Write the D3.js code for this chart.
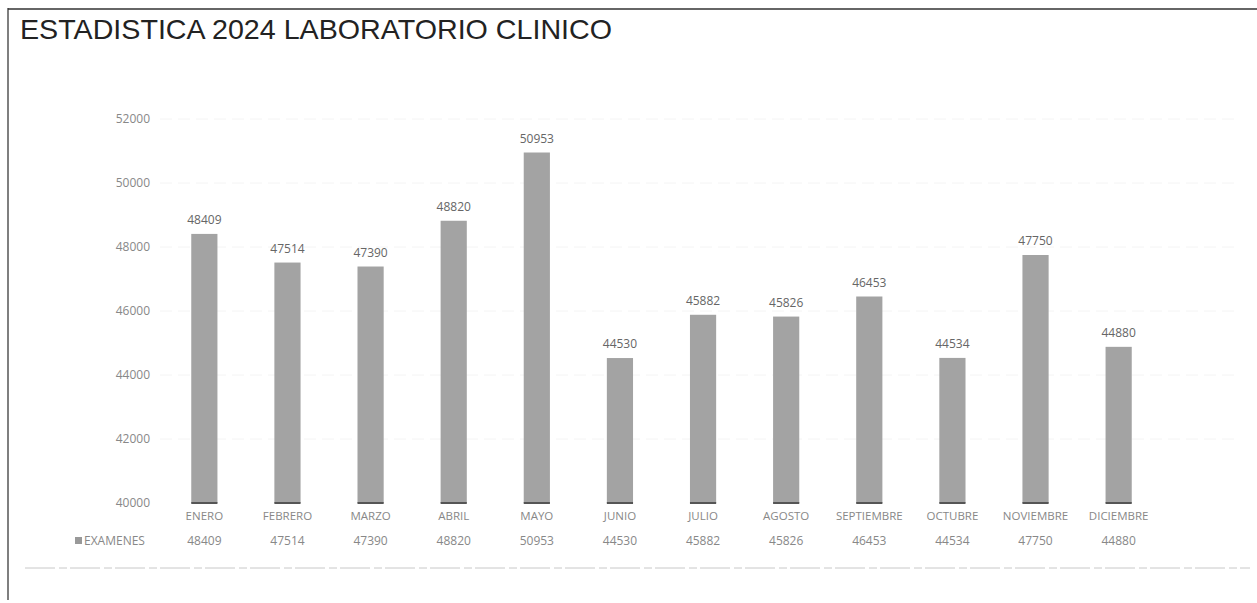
<!DOCTYPE html>
<html><head><meta charset="utf-8">
<script src="https://cdn.jsdelivr.net/npm/d3@7"></script>
<style>body{margin:0;background:#fff}svg{display:block}</style>
</head><body>
<svg id="c" width="1257" height="603"></svg>
<script>
const months = ["ENERO","FEBRERO","MARZO","ABRIL","MAYO","JUNIO","JULIO","AGOSTO","SEPTIEMBRE","OCTUBRE","NOVIEMBRE","DICIEMBRE"];
const examenes = [48409,47514,47390,48820,50953,44530,45882,45826,46453,44534,47750,44880];
const yTicks = [40000,42000,44000,46000,48000,50000,52000];
const seriesName = "EXAMENES";
const title = "ESTADISTICA 2024 LABORATORIO CLINICO";

const svg = d3.select("#c");
const font = "'Liberation Sans', Arial, sans-serif";
const lightFont = "'Open Sans', 'Liberation Sans', sans-serif";

// frame
svg.append("line").attr("x1",8).attr("x2",8).attr("y1",8).attr("y2",600).attr("stroke","#555").attr("stroke-width",1.5);
svg.append("line").attr("x1",8).attr("x2",1257).attr("y1",9).attr("y2",9).attr("stroke","#333").attr("stroke-width",1.5);
svg.append("line").attr("x1",25).attr("x2",1250).attr("y1",568).attr("y2",568).attr("stroke","#c8c8c8").attr("stroke-width",1).attr("stroke-dasharray","30,4,8,3");

svg.append("text").attr("x",20).attr("y",39).attr("font-family",font).attr("font-size",28.5).attr("fill","#222")
  .attr("textLength",592).attr("lengthAdjust","spacingAndGlyphs").text(title);

const x = d3.scaleBand().domain(months).range([163,1160]).paddingInner(0.685).paddingOuter(0.34);
const y = d3.scaleLinear().domain([40000,52000]).range([503,119]);

// faint gridlines
svg.append("g").selectAll("line").data(yTicks.slice(1)).join("line")
  .attr("x1",160).attr("x2",1240).attr("y1",d=>y(d)).attr("y2",d=>y(d))
  .attr("stroke","#f4f4f4").attr("stroke-width",1).attr("stroke-dasharray","12,6");

// y axis
const yAxis = d3.axisLeft(y).tickValues(yTicks).tickSize(0).tickPadding(0).tickFormat(d3.format("d"));
const ga = svg.append("g").attr("transform","translate(150,0)").call(yAxis);
ga.select(".domain").remove();
ga.selectAll("text").attr("font-family",lightFont).attr("font-size",12).attr("fill","#888");

// bars
svg.append("g").selectAll("rect").data(examenes).join("rect")
  .attr("x",(d,i)=>x(months[i])).attr("width",x.bandwidth())
  .attr("y",d=>y(d)).attr("height",d=>y(40000)-y(d))
  .attr("fill","#a3a3a3");
svg.append("g").selectAll("line").data(examenes).join("line")
  .attr("x1",(d,i)=>x(months[i])).attr("x2",(d,i)=>x(months[i])+x.bandwidth())
  .attr("y1",y(40000)).attr("y2",y(40000)).attr("stroke","#555").attr("stroke-width",2);

// data labels
svg.append("g").selectAll("text").data(examenes).join("text")
  .attr("x",(d,i)=>x(months[i])+x.bandwidth()/2).attr("y",d=>y(d)-10)
  .attr("text-anchor","middle").attr("font-family",lightFont).attr("font-size",12).attr("fill","#666")
  .text(d=>d);

// x axis categories
const xAxis = d3.axisBottom(x).tickSize(0).tickPadding(0);
const gx = svg.append("g").attr("transform","translate(0,510)").call(xAxis);
gx.select(".domain").remove();
gx.selectAll("text").attr("font-family",lightFont).attr("font-size",11.5).attr("fill","#888").attr("dy","0.9em");

// data table row
svg.append("g").selectAll("text").data(examenes).join("text")
  .attr("x",(d,i)=>x(months[i])+x.bandwidth()/2).attr("y",545)
  .attr("text-anchor","middle").attr("font-family",lightFont).attr("font-size",12).attr("fill","#888")
  .text(d=>d);
svg.append("rect").attr("x",75).attr("y",537).attr("width",7).attr("height",7).attr("fill","#999");
svg.append("text").attr("x",84).attr("y",545).attr("font-family",lightFont).attr("font-size",12).attr("fill","#888").text(seriesName);
</script>
</body></html>
